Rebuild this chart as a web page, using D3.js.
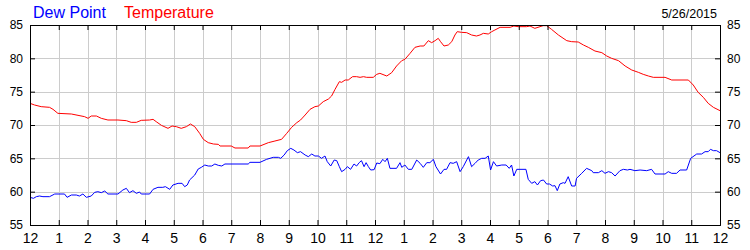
<!DOCTYPE html>
<html>
<head>
<meta charset="utf-8">
<script src="https://cdn.jsdelivr.net/npm/d3@7"></script>
<style>
  body { margin: 0; background: #fff; }
  svg { display: block; font-family: "Liberation Sans", Arial, sans-serif; }
</style>
</head>
<body>
<div id="chart"></div>
<script>
// Hour of day (0 = midnight) and readings in deg F
const tempHours = [0, 0.16, 0.39, 0.68, 0.8, 0.97, 1.44, 1.67, 1.9, 2.02, 2.13, 2.31, 2.48, 2.71, 3.06, 3.35, 3.52, 3.7, 3.87, 4.16,
  4.28, 4.39, 4.57, 4.8, 4.94, 5.09, 5.26, 5.44, 5.58, 5.73, 5.9, 6.03, 6.2, 6.38, 6.55, 6.61, 7.0, 7.13, 7.59, 7.65,
  8.0, 8.29, 8.52, 8.75, 8.93, 9.1, 9.28, 9.41, 9.57, 9.74, 9.91, 10.03, 10.2, 10.38, 10.49, 10.61, 10.76, 10.84, 10.96, 11.07,
  11.22, 11.36, 11.48, 11.6, 11.71, 11.94, 12.06, 12.17, 12.41, 12.58, 12.75, 12.93, 13.04, 13.22, 13.39, 13.57, 13.7, 13.855, 13.97, 14.09,
  14.2, 14.28, 14.4, 14.55, 14.67, 14.78, 14.86, 15.01, 15.19, 15.36, 15.53, 15.65, 15.77, 15.94, 16.06, 16.17, 16.35, 16.7, 16.83, 16.98,
  17.27, 17.39, 17.56, 17.74, 17.85, 17.97, 18.14, 18.38, 18.67, 18.84, 19.07, 19.25, 19.42, 19.65, 19.89, 20.06, 20.23, 20.47, 20.7, 20.93,
  21.16, 21.33, 21.51, 21.68, 22.09, 22.32, 22.9, 23.07, 23.24, 23.42, 23.59, 23.77, 24.0];
const tempValues = [73.25, 73.0, 72.75, 72.65, 72.35, 71.75, 71.65, 71.45, 71.25, 71.0, 71.35, 71.35, 71.0, 70.75, 70.75, 70.65, 70.4, 70.4, 70.7, 70.75,
  70.85, 70.5, 69.95, 69.5, 69.85, 69.75, 69.5, 69.75, 70.15, 69.75, 68.75, 67.85, 67.35, 67.15, 67.1, 66.85, 66.85, 66.55, 66.55, 66.85,
  66.85, 67.35, 67.6, 67.85, 68.75, 69.65, 70.35, 70.75, 71.5, 72.35, 72.75, 72.85, 73.5, 73.9, 74.35, 75.35, 76.5, 76.4, 76.75, 76.75,
  77.25, 77.25, 77.15, 77.25, 77.15, 77.15, 77.6, 77.75, 77.35, 77.85, 78.85, 79.65, 79.85, 80.75, 81.65, 81.85, 81.85, 82.65, 82.35, 82.65,
  83.0, 82.5, 81.85, 82.0, 82.5, 83.5, 84.0, 83.9, 83.85, 83.5, 83.35, 83.5, 83.75, 83.65, 84.0, 84.25, 84.65, 84.65, 84.85, 84.75,
  84.75, 84.85, 84.5, 84.75, 84.9, 84.9, 84.35, 83.5, 82.65, 82.5, 82.45, 82.0, 81.65, 81.1, 80.85, 80.35, 80.0, 79.65, 78.85, 78.25,
  77.9, 77.6, 77.35, 77.15, 77.15, 76.75, 76.75, 76.0, 74.9, 74.15, 73.25, 72.65, 72.15];

const dewHours = [0, 0.12, 0.22, 0.33, 0.45, 0.68, 0.86, 1.2, 1.29, 1.44, 1.61, 1.72, 1.84, 1.96, 2.13, 2.25, 2.36, 2.48, 2.6, 2.71,
  3.06, 3.23, 3.35, 3.46, 3.58, 3.7, 3.81, 3.87, 4.16, 4.28, 4.45, 4.62, 4.71, 4.86, 4.97, 5.15, 5.29, 5.38, 5.47, 5.55,
  5.73, 5.85, 5.96, 6.08, 6.2, 6.32, 6.43, 6.55, 6.67, 6.78, 7.59, 7.65, 8.0, 8.23, 8.46, 8.64, 8.72, 8.84, 8.95, 9.07,
  9.18, 9.3, 9.41, 9.57, 9.68, 9.8, 9.91, 10.03, 10.14, 10.26, 10.34, 10.46, 10.58, 10.67, 10.76, 10.84, 10.96, 11.04, 11.15, 11.27,
  11.36, 11.45, 11.53, 11.62, 11.69, 11.77, 11.85, 11.97, 12.06, 12.17, 12.27, 12.35, 12.43, 12.52, 12.75, 12.87, 12.93, 13.04, 13.16, 13.28,
  13.45, 13.57, 13.68, 13.8, 13.91, 14.03, 14.12, 14.28, 14.4, 14.49, 14.61, 14.72, 14.84, 14.96, 15.07, 15.25, 15.36, 15.48, 15.59, 15.71,
  15.83, 15.94, 16.02, 16.12, 16.23, 16.41, 16.56, 16.67, 16.75, 16.83, 16.93, 17.25, 17.33, 17.45, 17.56, 17.65, 17.76, 17.86, 17.97, 18.07,
  18.18, 18.26, 18.34, 18.43, 18.55, 18.61, 18.72, 18.84, 18.96, 19.01, 19.19, 19.36, 19.54, 19.59, 19.77, 19.89, 20.0, 20.12, 20.23, 20.35,
  20.52, 20.64, 20.78, 20.87, 21.04, 21.22, 21.45, 21.62, 21.74, 22.09, 22.2, 22.32, 22.49, 22.61, 22.84, 22.98, 23.19, 23.36, 23.48, 23.59,
  23.67, 23.77, 23.88, 24.0];
const dewValues = [59.15, 59.0, 59.25, 59.35, 59.25, 59.25, 59.65, 59.65, 59.15, 59.5, 59.5, 59.35, 59.65, 59.15, 59.35, 59.9, 60.0, 59.85, 60.1, 59.65,
  59.65, 60.25, 60.5, 59.85, 60.15, 59.75, 59.95, 59.65, 59.65, 60.35, 60.65, 60.65, 60.75, 60.35, 61.0, 61.25, 61.25, 60.75, 61.0, 61.75,
  62.5, 63.4, 63.65, 64.0, 63.85, 63.85, 64.15, 63.95, 63.85, 64.15, 64.15, 64.4, 64.4, 64.85, 65.15, 65.15, 65.0, 65.5, 66.15, 66.5,
  66.25, 65.85, 66.0, 65.5, 65.25, 65.65, 65.35, 65.35, 65.0, 65.35, 64.5, 63.85, 64.75, 64.65, 63.75, 63.0, 63.35, 63.75, 63.35, 64.15,
  63.85, 64.35, 64.65, 63.75, 64.35, 63.75, 63.25, 63.3, 64.3, 64.2, 64.85, 64.5, 65.0, 63.5, 63.5, 64.35, 63.65, 64.0, 63.35, 63.35,
  64.75, 64.25, 63.65, 64.35, 64.35, 64.85, 63.75, 62.65, 63.35, 63.35, 64.35, 64.25, 64.5, 63.0, 63.75, 65.25, 63.75, 64.25, 64.75, 65.0,
  65.0, 65.35, 63.25, 64.5, 63.85, 64.0, 64.0, 63.5, 64.0, 62.35, 63.35, 63.35, 61.85, 61.25, 61.5, 61.0, 61.65, 61.75, 61.15, 61.15,
  60.85, 60.9, 60.15, 61.15, 61.35, 61.25, 62.25, 60.85, 60.85, 62.0, 62.75, 63.5, 63.15, 62.85, 62.85, 63.15, 62.75, 63.0, 62.85, 62.35,
  63.15, 63.35, 63.25, 63.35, 63.15, 63.25, 63.15, 63.35, 62.65, 62.65, 63.0, 62.75, 62.75, 63.25, 63.25, 65.0, 65.65, 65.65, 66.0, 66.0,
  66.35, 66.15, 66.15, 65.85];

const hourTicks = d3.range(0, 25);
const hourLabels = ["12", "1", "2", "3", "4", "5", "6", "7", "8", "9", "10", "11",
  "12", "1", "2", "3", "4", "5", "6", "7", "8", "9", "10", "11", "12"];
const degTicks = [55, 60, 65, 70, 75, 80, 85];
const dateLabel = "5/26/2015";

const W = 750, H = 250;
const margin = { top: 25, right: 30, bottom: 25, left: 30 };
const width = W - margin.left - margin.right;
const height = H - margin.top - margin.bottom;

const svg = d3.select("#chart").append("svg")
  .attr("width", W)
  .attr("height", H);

const g = svg.append("g")
  .attr("transform", `translate(${margin.left},${margin.top})`);

const x = d3.scaleLinear().domain([0, 24]).range([0, width]);
const y = d3.scaleLinear().domain([55, 85]).range([height, 0]);

// grid
g.append("g").selectAll("line")
  .data(hourTicks)
  .enter().append("line")
  .attr("x1", d => Math.round(x(d)) + 0.5)
  .attr("x2", d => Math.round(x(d)) + 0.5)
  .attr("y1", 0).attr("y2", height)
  .attr("stroke", "#cccccc");
g.append("g").selectAll("line")
  .data(degTicks)
  .enter().append("line")
  .attr("y1", d => Math.round(y(d)) + 0.5)
  .attr("y2", d => Math.round(y(d)) + 0.5)
  .attr("x1", 0).attr("x2", width)
  .attr("stroke", "#cccccc");

// series
const clip = svg.append("clipPath").attr("id", "plot")
  .append("rect").attr("width", width).attr("height", height + 1);

function drawSeries(hours, values, color) {
  const line = d3.line().x((d, i) => x(hours[i])).y(d => y(d));
  g.append("path")
    .datum(values)
    .attr("clip-path", "url(#plot)")
    .attr("fill", "none")
    .attr("stroke", color)
    .attr("stroke-width", 1)
    .attr("d", line);
}
drawSeries(tempHours, tempValues, "#ff0000");
drawSeries(dewHours, dewValues, "#0000ff");

// axes, ticks inside
const fmtHour = d => hourLabels[d];
const bottom = g.append("g")
  .attr("transform", `translate(0,${height})`)
  .call(d3.axisBottom(x).tickValues(hourTicks).tickFormat(fmtHour).tickSize(-5).tickPadding(8));
g.append("g")
  .call(d3.axisTop(x).tickValues(hourTicks).tickFormat("").tickSize(-5));
const left = g.append("g")
  .call(d3.axisLeft(y).tickValues(degTicks).tickSize(-5).tickPadding(7));
const right = g.append("g")
  .attr("transform", `translate(${width},0)`)
  .call(d3.axisRight(y).tickValues(degTicks).tickSize(-5).tickPadding(7));

g.selectAll(".domain").attr("stroke", "#000");
g.selectAll(".tick line").attr("stroke", "#000");
g.selectAll(".tick text").attr("fill", "#000")
  .attr("font-family", "Liberation Sans, Arial, sans-serif");
bottom.selectAll("text").attr("font-size", 14);
left.selectAll("text").attr("font-size", 12);
right.selectAll("text").attr("font-size", 12);
g.selectAll(".domain").attr("stroke-width", 1);

// titles
svg.append("text")
  .attr("x", 33).attr("y", 17.5)
  .attr("font-size", 16)
  .attr("fill", "#0000ff")
  .text("Dew Point");
svg.append("text")
  .attr("x", 124).attr("y", 17.5)
  .attr("font-size", 16)
  .attr("fill", "#ff0000")
  .text("Temperature");
svg.append("text")
  .attr("x", 717).attr("y", 17.5)
  .attr("text-anchor", "end")
  .attr("font-size", 12.5)
  .attr("fill", "#000")
  .text(dateLabel);
</script>
</body>
</html>
